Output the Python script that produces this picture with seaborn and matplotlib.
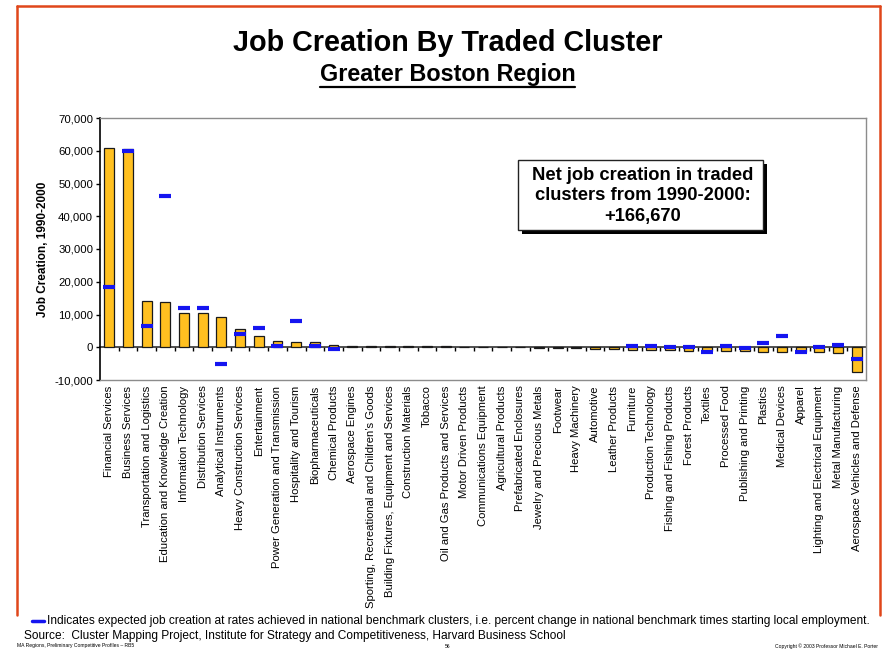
"""Job creation by traded cluster, Greater Boston Region (1990-2000)."""

import numpy as np
import pandas as pd
import matplotlib
matplotlib.use("Agg")
import matplotlib.pyplot as plt
import seaborn as sns
from matplotlib.lines import Line2D
from matplotlib.patches import Rectangle
from matplotlib.ticker import FuncFormatter

W, H = 886, 649

CLUSTERS = [
    "Financial Services", "Business Services", "Transportation and Logistics",
    "Education and Knowledge Creation", "Information Technology", "Distribution Services",
    "Analytical Instruments", "Heavy Construction Services", "Entertainment",
    "Power Generation and Transmission", "Hospitality and Tourism", "Biopharmaceuticals",
    "Chemical Products", "Aerospace Engines", "Sporting, Recreational and Children\u2019s Goods",
    "Building Fixtures, Equipment and Services", "Construction Materials", "Tobacco",
    "Oil and Gas Products and Services", "Motor Driven Products", "Communications Equipment",
    "Agricultural Products", "Prefabricated Enclosures", "Jewelry and Precious Metals",
    "Footwear", "Heavy Machinery", "Automotive", "Leather Products", "Furniture",
    "Production Technology", "Fishing and Fishing Products", "Forest Products", "Textiles",
    "Processed Food", "Publishing and Printing", "Plastics", "Medical Devices", "Apparel",
    "Lighting and Electrical Equipment", "Metal Manufacturing",
    "Aerospace Vehicles and Defense",
]

# actual job creation 1990-2000
JOBS_CREATED = [
    60700, 60500, 14200, 13700, 10400, 10400, 9300, 5500, 3300, 2000, 1700, 1600,
    600, 500, 300, 300, 300, 300, 300, 0, 0, 0, 0, -200, -200, -200, -400, -400,
    -700, -700, -700, -1100, -1000, -1200, -1200, -1500, -1500, -1500, -1500, -1700,
    -7700,
]

# expected job creation at national benchmark rates (blue dashes)
EXPECTED_JOBS = [
    18300, 59900, 6600, 46100, 12000, 12000, -5200, 3900, 6000, 400, 8000, 400,
    -600, np.nan, np.nan, np.nan, np.nan, np.nan, np.nan, np.nan, np.nan, np.nan,
    np.nan, np.nan, np.nan, np.nan, np.nan, np.nan, 500, 500, 200, 100, -1300, 500,
    -300, 1300, 3300, -1400, 200, 700, -3600,
]

Y_TICKS = list(range(-10000, 70001, 10000))


def fx(x):
    return x / W


def fy(y):
    return 1 - y / H


def draw_chart(fig):
    ax = fig.add_axes([fx(100), fy(380), fx(866) - fx(100), fy(118) - fy(380)])
    df = pd.DataFrame({"cluster": CLUSTERS, "jobs": JOBS_CREATED, "expected": EXPECTED_JOBS})

    sns.barplot(data=df, x="cluster", y="jobs", color="#FFC020", saturation=1,
                edgecolor="#1a1a1a", linewidth=0.9, width=0.53, ax=ax)
    ax.plot(np.arange(len(df)), df["expected"], linestyle="none", marker="_",
            markersize=8.5, markeredgewidth=3, color="#1515F0", zorder=5)

    ax.set_xlim(-0.5, len(df) - 0.5)
    ax.set_ylim(-10000, 70000)
    ax.set_yticks(Y_TICKS)
    ax.yaxis.set_major_formatter(FuncFormatter(lambda v, p: f"{int(v):,}"))
    ax.tick_params(axis="y", direction="out", length=3, width=1, labelsize=8.2, pad=2,
                   left=True, color="black")
    ax.tick_params(axis="x", length=0, labelsize=8.1, pad=4, rotation=90)
    ax.set_xlabel("")
    ax.set_ylabel("Job Creation, 1990-2000", fontsize=8.5, fontweight="bold", labelpad=4)

    for side in ["top", "right", "bottom"]:
        ax.spines[side].set_color("#8c8c8c")
        ax.spines[side].set_linewidth(1)
    ax.spines["left"].set_color("black")
    ax.spines["left"].set_linewidth(1.2)
    ax.grid(False)

    # zero line with category boundary ticks
    zero = ax.secondary_xaxis(10000 / 80000)
    zero.set_xticks(np.arange(len(df) - 1) + 0.5)
    zero.tick_params(length=3, width=1, direction="out", labelbottom=False, color="black")
    zero.spines["bottom"].set_color("#333333")
    zero.spines["bottom"].set_linewidth(1.2)
    return ax


def draw_annotations(fig):
    # slide frame
    for xs, ys in [([17, 17], [6, 615]), ([17, 880], [6, 6]), ([880, 880], [6, 615])]:
        fig.add_artist(Line2D([fx(x) for x in xs], [fy(y) for y in ys],
                              color="#E0461A", lw=1.8, transform=fig.transFigure))

    fig.text(0.505, fy(43), "Job Creation By Traded Cluster", ha="center", va="center",
             fontsize=20.7, fontweight="bold")
    sub = fig.text(0.505, fy(75), "Greater Boston Region", ha="center", va="center",
                   fontsize=16.8, fontweight="bold")
    fig.canvas.draw()
    bb = sub.get_window_extent()
    fig.add_artist(Line2D([bb.x0 / W, bb.x1 / W], [(bb.y0 - 0.5) / H] * 2, color="black",
                          lw=1.6, transform=fig.transFigure))

    # net job creation box with shadow
    fig.add_artist(Rectangle((fx(522), fy(234)), fx(763) - fx(518), fy(160) - fy(230),
                             transform=fig.transFigure, facecolor="black", edgecolor="none"))
    fig.add_artist(Rectangle((fx(518), fy(230)), fx(763) - fx(518), fy(160) - fy(230),
                             transform=fig.transFigure, facecolor="white",
                             edgecolor="#222222", lw=1))
    fig.text(fx(643), fy(196), "Net job creation in traded\nclusters from 1990-2000:\n+166,670",
             ha="center", va="center", fontsize=13.2, fontweight="bold", linespacing=1.27)

    fig.add_artist(Line2D([fx(32), fx(44)], [fy(621)] * 2, color="#1515F0", lw=2.5,
                          transform=fig.transFigure))
    fig.text(fx(47), fy(621), "Indicates expected job creation at rates achieved in national "
             "benchmark clusters, i.e. percent change in national benchmark times starting "
             "local employment.", ha="left", va="center", fontsize=8.6)
    fig.text(fx(24), fy(636), "Source:  Cluster Mapping Project, Institute for Strategy and "
             "Competitiveness, Harvard Business School", ha="left", va="center", fontsize=8.6)
    fig.text(fx(17), fy(646), "MA Regions, Preliminary Competitive Profiles \u2013 RB5",
             ha="left", va="center", fontsize=3.6)
    fig.text(fx(448), fy(646), "56", ha="center", va="center", fontsize=3.6)
    fig.text(fx(878), fy(646), "Copyright \u00a9 2003 Professor Michael E. Porter",
             ha="right", va="center", fontsize=3.6)


def main():
    sns.set_style("white")
    plt.rcParams["font.family"] = ["Liberation Sans", "DejaVu Sans"]
    plt.rcParams.update({"text.color": "black", "axes.labelcolor": "black",
                         "xtick.color": "black", "ytick.color": "black"})
    fig = plt.figure(figsize=(W / 100, H / 100), dpi=100)
    draw_chart(fig)
    draw_annotations(fig)
    fig.savefig("out.png", dpi=100)
    plt.close(fig)


if __name__ == "__main__":
    main()
